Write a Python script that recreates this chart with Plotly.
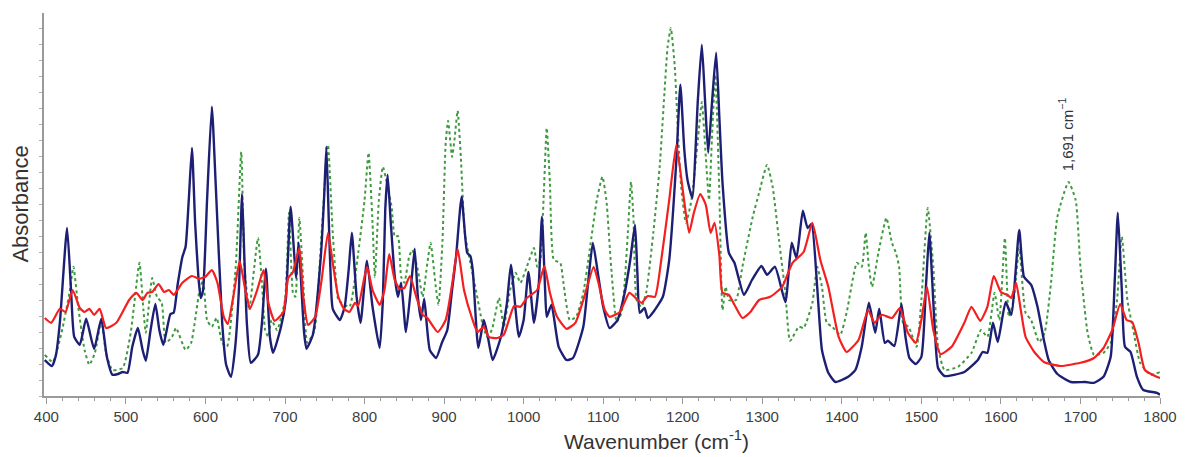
import plotly.graph_objects as go

# ---------------- data (wavenumber cm-1, absorbance arb. units) ----------------
blue_wn = [398, 407, 412, 417, 426, 431, 435, 442, 450, 460, 469, 476, 483, 490, 496, 502, 508, 515, 521, 525,
           531, 537, 542, 547, 556, 560, 565, 571, 575, 579, 583, 587, 591, 594, 597, 602, 608, 613, 621, 626,
           632, 637, 642, 646, 649, 652, 657, 666, 671, 676, 681, 685, 695, 701, 707, 714, 717, 724, 727, 735,
           745, 749, 752, 755, 758, 760, 769, 775, 780, 784, 790, 795, 803, 810, 819, 823, 826, 829, 833, 838,
           842, 846, 852, 858, 863, 867, 871, 875, 882, 890, 897, 904, 910, 915, 922, 929, 933, 936, 943, 950,
           955, 961, 971, 979, 984, 994, 1000, 1006, 1013, 1019, 1023, 1027, 1029, 1035, 1044, 1054, 1062, 1075, 1081, 1087,
           1094, 1100, 1108, 1118, 1127, 1134, 1140, 1143, 1146, 1152, 1156, 1163, 1175, 1183, 1192, 1197, 1202, 1206, 1212, 1219,
           1224, 1228, 1232, 1237, 1242, 1246, 1250, 1258, 1265, 1277, 1287, 1299, 1306, 1316, 1329, 1337, 1343, 1351, 1357, 1362,
           1369, 1375, 1383, 1392, 1408, 1417, 1425, 1434, 1442, 1447, 1454, 1458, 1466, 1475, 1480, 1485, 1493, 1500, 1506, 1510,
           1516, 1521, 1529, 1554, 1571, 1577, 1583, 1590, 1596, 1606, 1613, 1623, 1629, 1638, 1646, 1654, 1660, 1671, 1688, 1706,
           1717, 1729, 1738, 1743, 1747, 1752, 1756, 1763, 1771, 1779, 1796, 1800]
blue_abs = [0.090, 0.075, 0.102, 0.185, 0.420, 0.265, 0.148, 0.128, 0.193, 0.118, 0.193, 0.098, 0.053, 0.055, 0.060, 0.058, 0.123, 0.170, 0.115, 0.088,
            0.165, 0.230, 0.165, 0.128, 0.205, 0.208, 0.278, 0.348, 0.373, 0.490, 0.620, 0.433, 0.300, 0.245, 0.265, 0.490, 0.723, 0.523, 0.183, 0.078,
            0.048, 0.115, 0.265, 0.505, 0.340, 0.183, 0.083, 0.103, 0.183, 0.318, 0.148, 0.108, 0.173, 0.240, 0.473, 0.295, 0.383, 0.158, 0.118, 0.153,
            0.348, 0.490, 0.623, 0.440, 0.265, 0.218, 0.190, 0.223, 0.315, 0.408, 0.248, 0.183, 0.338, 0.223, 0.120, 0.240, 0.465, 0.553, 0.432, 0.298,
            0.248, 0.283, 0.160, 0.265, 0.368, 0.248, 0.190, 0.243, 0.115, 0.095, 0.132, 0.165, 0.265, 0.348, 0.498, 0.358, 0.350, 0.315, 0.120, 0.190,
            0.148, 0.090, 0.145, 0.233, 0.328, 0.148, 0.190, 0.310, 0.183, 0.280, 0.448, 0.265, 0.198, 0.228, 0.123, 0.090, 0.095, 0.173, 0.283, 0.383,
            0.298, 0.223, 0.170, 0.190, 0.258, 0.340, 0.428, 0.307, 0.208, 0.220, 0.195, 0.210, 0.248, 0.340, 0.590, 0.778, 0.615, 0.540, 0.495, 0.740,
            0.878, 0.740, 0.608, 0.740, 0.858, 0.698, 0.533, 0.358, 0.333, 0.253, 0.290, 0.325, 0.303, 0.323, 0.235, 0.383, 0.345, 0.463, 0.420, 0.430,
            0.273, 0.115, 0.058, 0.035, 0.048, 0.065, 0.123, 0.233, 0.158, 0.218, 0.133, 0.138, 0.125, 0.230, 0.148, 0.095, 0.080, 0.098, 0.283, 0.408,
            0.198, 0.070, 0.050, 0.060, 0.090, 0.110, 0.108, 0.183, 0.135, 0.235, 0.203, 0.415, 0.298, 0.278, 0.223, 0.140, 0.090, 0.055, 0.035, 0.035,
            0.033, 0.048, 0.098, 0.283, 0.458, 0.265, 0.123, 0.110, 0.048, 0.015, 0.008, 0.003]

red_wn = [398, 406, 417, 424, 433, 442, 448, 454, 460, 467, 475, 488, 504, 513, 521, 527, 533, 541, 548, 554,
          560, 571, 583, 592, 600, 608, 615, 623, 628, 635, 643, 650, 656, 665, 673, 679, 687, 698, 704, 710,
          718, 723, 729, 738, 746, 754, 760, 767, 774, 781, 788, 792, 803, 810, 819, 825, 831, 838, 844, 850,
          857, 865, 873, 879, 892, 902, 910, 917, 925, 935, 942, 950, 956, 967, 975, 988, 996, 1004, 1017, 1026,
          1033, 1042, 1054, 1065, 1075, 1088, 1094, 1102, 1108, 1121, 1133, 1148, 1156, 1165, 1173, 1183, 1192, 1200, 1208, 1214,
          1222, 1229, 1235, 1240, 1246, 1250, 1258, 1265, 1275, 1285, 1296, 1310, 1325, 1338, 1352, 1363, 1373, 1383, 1396, 1406,
          1421, 1433, 1441, 1450, 1463, 1473, 1483, 1493, 1500, 1507, 1515, 1524, 1538, 1554, 1563, 1574, 1583, 1591, 1600, 1608,
          1613, 1619, 1625, 1631, 1642, 1654, 1675, 1700, 1717, 1729, 1740, 1750, 1758, 1765, 1773, 1781, 1796, 1800]
red_abs = [0.195, 0.183, 0.218, 0.210, 0.265, 0.220, 0.210, 0.218, 0.203, 0.218, 0.170, 0.183, 0.240, 0.258, 0.240, 0.258, 0.260, 0.280, 0.260, 0.265,
           0.253, 0.283, 0.300, 0.293, 0.298, 0.315, 0.283, 0.198, 0.180, 0.248, 0.338, 0.265, 0.218, 0.265, 0.315, 0.233, 0.188, 0.210, 0.295, 0.310,
           0.370, 0.248, 0.178, 0.198, 0.290, 0.408, 0.333, 0.248, 0.218, 0.210, 0.233, 0.225, 0.323, 0.265, 0.228, 0.265, 0.355, 0.290, 0.268, 0.270,
           0.300, 0.248, 0.203, 0.195, 0.160, 0.190, 0.278, 0.368, 0.265, 0.195, 0.160, 0.173, 0.148, 0.145, 0.153, 0.225, 0.223, 0.245, 0.265, 0.325,
           0.258, 0.198, 0.168, 0.183, 0.240, 0.323, 0.283, 0.215, 0.198, 0.210, 0.258, 0.233, 0.250, 0.248, 0.340, 0.490, 0.628, 0.515, 0.408, 0.458,
           0.505, 0.478, 0.408, 0.433, 0.353, 0.258, 0.253, 0.228, 0.195, 0.210, 0.240, 0.248, 0.273, 0.333, 0.360, 0.433, 0.340, 0.273, 0.148, 0.110,
           0.140, 0.215, 0.183, 0.203, 0.195, 0.220, 0.158, 0.133, 0.190, 0.273, 0.165, 0.105, 0.123, 0.183, 0.223, 0.188, 0.223, 0.300, 0.260, 0.253,
           0.245, 0.283, 0.215, 0.148, 0.110, 0.085, 0.075, 0.083, 0.095, 0.120, 0.165, 0.230, 0.190, 0.185, 0.133, 0.065, 0.048, 0.045]

green_wn = [398, 408, 419, 429, 434, 440, 448, 454, 461, 469, 475, 483, 496, 506, 517, 522, 525, 533, 539, 545,
            550, 558, 563, 575, 582, 592, 597, 602, 608, 614, 621, 627, 638, 645, 649, 655, 660, 666, 671, 675,
            679, 683, 690, 700, 705, 710, 713, 718, 723, 728, 737, 746, 754, 760, 767, 771, 781, 792, 800, 805,
            810, 813, 818, 823, 828, 834, 838, 842, 846, 850, 856, 860, 867, 873, 879, 883, 890, 893, 898, 902,
            905, 910, 913, 917, 921, 926, 933, 940, 948, 954, 960, 969, 975, 983, 990, 996, 1004, 1013, 1017, 1021,
            1025, 1029, 1033, 1038, 1046, 1050, 1058, 1066, 1075, 1083, 1092, 1099, 1104, 1110, 1117, 1123, 1127, 1131, 1135, 1138,
            1142, 1148, 1154, 1163, 1171, 1177, 1181, 1185, 1190, 1194, 1198, 1204, 1211, 1219, 1224, 1229, 1233, 1237, 1241, 1246,
            1250, 1254, 1258, 1267, 1275, 1288, 1296, 1306, 1313, 1321, 1329, 1335, 1346, 1352, 1363, 1369, 1375, 1381, 1388, 1398,
            1406, 1419, 1425, 1430, 1434, 1438, 1446, 1456, 1463, 1468, 1472, 1477, 1484, 1494, 1500, 1508, 1515, 1521, 1529, 1546,
            1563, 1575, 1583, 1592, 1598, 1605, 1610, 1616, 1623, 1631, 1638, 1648, 1655, 1663, 1671, 1685, 1694, 1700, 1709, 1717,
            1729, 1738, 1746, 1752, 1759, 1767, 1775, 1788, 1800]
green_abs = [0.103, 0.085, 0.158, 0.258, 0.323, 0.223, 0.115, 0.078, 0.108, 0.188, 0.108, 0.065, 0.070, 0.158, 0.333, 0.215, 0.158, 0.295, 0.248, 0.233,
             0.133, 0.148, 0.170, 0.115, 0.133, 0.258, 0.290, 0.190, 0.173, 0.195, 0.133, 0.123, 0.323, 0.610, 0.323, 0.215, 0.298, 0.395, 0.283, 0.165,
             0.148, 0.190, 0.165, 0.240, 0.458, 0.258, 0.248, 0.445, 0.283, 0.133, 0.165, 0.408, 0.628, 0.408, 0.240, 0.233, 0.223, 0.358, 0.490, 0.608,
             0.433, 0.298, 0.490, 0.573, 0.533, 0.473, 0.398, 0.400, 0.298, 0.283, 0.348, 0.365, 0.315, 0.248, 0.333, 0.383, 0.265, 0.228, 0.390, 0.633,
             0.688, 0.598, 0.640, 0.713, 0.598, 0.408, 0.333, 0.265, 0.183, 0.148, 0.165, 0.245, 0.173, 0.265, 0.308, 0.283, 0.323, 0.370, 0.323, 0.340,
             0.490, 0.670, 0.533, 0.340, 0.333, 0.283, 0.190, 0.198, 0.258, 0.365, 0.490, 0.548, 0.490, 0.323, 0.185, 0.208, 0.283, 0.408, 0.535, 0.448,
             0.240, 0.223, 0.258, 0.408, 0.573, 0.758, 0.873, 0.920, 0.823, 0.658, 0.523, 0.433, 0.490, 0.640, 0.735, 0.598, 0.490, 0.658, 0.803, 0.508,
             0.215, 0.273, 0.240, 0.240, 0.323, 0.448, 0.508, 0.578, 0.523, 0.390, 0.258, 0.138, 0.173, 0.170, 0.233, 0.323, 0.273, 0.183, 0.173, 0.153,
             0.208, 0.333, 0.323, 0.408, 0.323, 0.273, 0.358, 0.445, 0.383, 0.358, 0.323, 0.183, 0.173, 0.123, 0.240, 0.470, 0.323, 0.123, 0.065, 0.073,
             0.108, 0.165, 0.148, 0.258, 0.190, 0.395, 0.198, 0.240, 0.370, 0.208, 0.190, 0.135, 0.158, 0.283, 0.448, 0.535, 0.490, 0.323, 0.158, 0.103,
             0.108, 0.133, 0.240, 0.398, 0.240, 0.158, 0.083, 0.053, 0.060]

x_ticks = [400, 500, 600, 700, 800, 900, 1000, 1100, 1200, 1300, 1400, 1500, 1600, 1700, 1800]
peak_label = "1,691 cm<sup>−1</sup>"
peak_label_pos = (1681, 0.655)

# ---------------- figure ----------------
FONT = "Arial, Liberation Sans, sans-serif"
fig = go.Figure()
fig.add_trace(go.Scatter(x=green_wn, y=green_abs, mode="lines",
                         line=dict(color="#3f9a3f", width=2, dash="dot", shape="spline", smoothing=0.5)))
fig.add_trace(go.Scatter(x=blue_wn, y=blue_abs, mode="lines",
                         line=dict(color="#1d1f74", width=2.4, shape="spline", smoothing=0.5)))
fig.add_trace(go.Scatter(x=red_wn, y=red_abs, mode="lines",
                         line=dict(color="#f41f1f", width=2.2, shape="spline", smoothing=0.5)))

fig.update_layout(
    width=1189, height=457,
    margin=dict(l=44, r=22, t=13, b=61),
    paper_bgcolor="white", plot_bgcolor="white",
    showlegend=False,
    font=dict(family=FONT, color="#333333"),
    xaxis=dict(range=[397, 1800], tickvals=x_ticks, ticktext=[str(v) for v in x_ticks],
               showgrid=False, zeroline=False, showline=True, linecolor="#9a9a9a", linewidth=1.5,
               ticks="outside", ticklen=6, tickcolor="#9a9a9a", tickwidth=1,
               tickfont=dict(size=15, color="#404040", family=FONT),
               minor=dict(dtick=20, ticks="outside", ticklen=3, tickcolor="#9a9a9a", tickwidth=1)),
    yaxis=dict(range=[0, 0.9575], showticklabels=False, showgrid=False, zeroline=False,
               showline=True, linecolor="#9a9a9a", linewidth=1.5,
               ticks="outside", ticklen=3, tickcolor="#b0b0b0", dtick=0.04),
    annotations=[
        dict(text="Wavenumber (cm<sup>-1</sup>)", xref="paper", yref="paper", x=0.549, y=-0.115,
             xanchor="center", yanchor="middle", showarrow=False,
             font=dict(size=21, color="#333333", family=FONT)),
        dict(text="Absorbance", xref="paper", yref="paper", x=-0.0214, y=0.5, textangle=-90,
             xanchor="center", yanchor="middle", showarrow=False,
             font=dict(size=22, color="#333333", family=FONT)),
        dict(text=peak_label, xref="x", yref="y", x=peak_label_pos[0], y=peak_label_pos[1], textangle=-90,
             xanchor="center", yanchor="middle", showarrow=False,
             font=dict(size=15, color="#333333", family=FONT)),
    ],
)

fig.write_html("out.html")
